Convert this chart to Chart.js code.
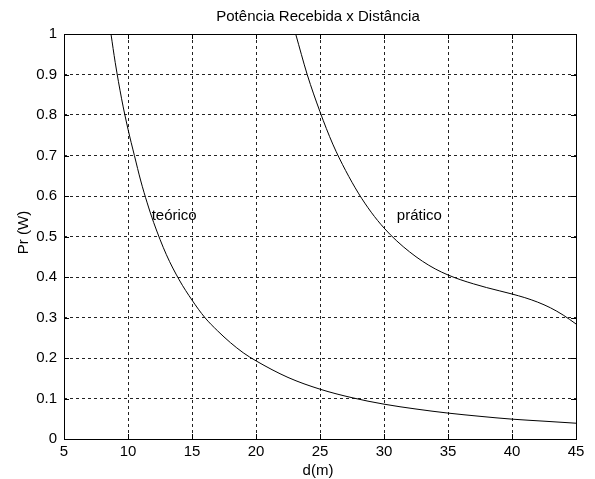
<!DOCTYPE html>
<html>
<head>
<meta charset="utf-8">
<script src="https://cdn.jsdelivr.net/npm/chart.js@4.4.0/dist/chart.umd.min.js"></script>
<style>
    html, body { margin: 0; padding: 0; background: #ffffff; }
</style>
</head>
<body>
<canvas id="pr-chart" width="595" height="479"></canvas>
<script>
// ========== Potência Recebida x Distância ==========

// distância (m) e potência (W)
const dTeorico = [8.67, 9.0, 9.5, 10, 10.5, 11, 11.5, 12, 13, 14, 15, 16, 17, 18, 19, 20, 22.5, 25, 27.5, 30, 32.5, 35, 37.5, 40, 42.5, 45];
const prTeorico = [1.0, 0.93, 0.84, 0.765, 0.70, 0.637, 0.583, 0.535, 0.455, 0.393, 0.343, 0.30, 0.267, 0.238, 0.213, 0.193, 0.152, 0.123, 0.102, 0.086, 0.074, 0.064, 0.056, 0.049, 0.044, 0.039];

const dPratico = [23.1, 24, 25, 26, 27, 28, 29, 30, 31, 32, 33, 34, 35, 36, 37, 38, 39, 40, 41, 42, 43, 44, 45];
const prPratico = [1.0, 0.9, 0.808, 0.728, 0.663, 0.607, 0.56, 0.521, 0.489, 0.462, 0.439, 0.42, 0.405, 0.393, 0.383, 0.374, 0.366, 0.358, 0.349, 0.338, 0.324, 0.306, 0.284];

const xTicks = [5, 10, 15, 20, 25, 30, 35, 40, 45];
const yTicks = [0, 0.1, 0.2, 0.3, 0.4, 0.5, 0.6, 0.7, 0.8, 0.9, 1];

const chartTitle = 'Potência Recebida x Distância';
const xTitle = 'd(m)';
const yTitle = 'Pr (W)';

// rótulos dentro do gráfico (posição em coordenadas de dados)
const noteLabels = ['teórico', 'prático'];
const noteX = [11.85, 31.0];
const noteY = [0.55, 0.55];

const FONT = "Arial, 'Liberation Sans', sans-serif";

function toPoints(xs, ys) {
    return xs.map((x, i) => ({ x, y: ys[i] }));
}

// moldura, marcas internas, títulos e anotações
const matlabAxes = {
    id: 'matlabAxes',
    afterDraw(chart) {
        const ctx = chart.ctx;
        const area = chart.chartArea;
        const xs = chart.scales.x;
        const ys = chart.scales.y;
        const tick = 5;

        ctx.save();
        ctx.strokeStyle = '#000';
        ctx.lineWidth = 1;
        ctx.strokeRect(Math.round(area.left) + 0.5, Math.round(area.top) + 0.5,
            Math.round(area.right - area.left), Math.round(area.bottom - area.top));

        ctx.beginPath();
        xTicks.forEach(v => {
            const px = Math.round(xs.getPixelForValue(v)) + 0.5;
            ctx.moveTo(px, area.bottom); ctx.lineTo(px, area.bottom - tick);
            ctx.moveTo(px, area.top); ctx.lineTo(px, area.top + tick);
        });
        yTicks.forEach(v => {
            const py = Math.round(ys.getPixelForValue(v)) + 0.5;
            ctx.moveTo(area.left, py); ctx.lineTo(area.left + tick, py);
            ctx.moveTo(area.right, py); ctx.lineTo(area.right - tick, py);
        });
        ctx.stroke();

        ctx.fillStyle = '#000';
        ctx.font = `15px ${FONT}`;
        const cx = (area.left + area.right) / 2;
        ctx.textAlign = 'center';
        ctx.textBaseline = 'middle';
        ctx.fillText(chartTitle, cx - 2, 17);
        ctx.fillText(xTitle, cx - 2, 471);

        ctx.save();
        ctx.translate(24, (area.top + area.bottom) / 2 - 4);
        ctx.rotate(-Math.PI / 2);
        ctx.fillText(yTitle, 0, 0);
        ctx.restore();

        ctx.textAlign = 'left';
        noteLabels.forEach((t, i) => {
            ctx.fillText(t, xs.getPixelForValue(noteX[i]), ys.getPixelForValue(noteY[i]));
        });
        ctx.restore();
    },
};

const canvas = document.getElementById('pr-chart');
new Chart(canvas, {
    type: 'line',
    data: {
        datasets: [
            {
                label: 'teórico',
                data: toPoints(dTeorico, prTeorico),
                borderColor: '#000',
                borderWidth: 1,
                pointRadius: 0,
                cubicInterpolationMode: 'monotone',
            },
            {
                label: 'prático',
                data: toPoints(dPratico, prPratico),
                borderColor: '#000',
                borderWidth: 1,
                pointRadius: 0,
                cubicInterpolationMode: 'monotone',
            },
        ],
    },
    options: {
        responsive: false,
        animation: false,
        devicePixelRatio: 1,
        layout: { padding: { top: 34, right: 19, left: 0, bottom: 0 } },
        plugins: {
            legend: { display: false },
            title: { display: false },
            tooltip: { enabled: false },
        },
        scales: {
            x: {
                type: 'linear',
                min: 5,
                max: 45,
                afterBuildTicks: scale => { scale.ticks = xTicks.map(v => ({ value: v })); },
                afterFit: scale => { scale.height = 40; },
                border: { display: false, dash: [3, 3] },
                grid: { color: '#222', lineWidth: 1, drawTicks: false },
                ticks: { color: '#000', padding: 4, maxRotation: 0, font: { family: FONT, size: 15 } },
            },
            y: {
                type: 'linear',
                min: 0,
                max: 1,
                afterBuildTicks: scale => { scale.ticks = yTicks.map(v => ({ value: v })); },
                afterFit: scale => { scale.width = 64; },
                border: { display: false, dash: [3, 3] },
                grid: { color: '#222', lineWidth: 1, drawTicks: false },
                ticks: {
                    color: '#000',
                    padding: 7,
                    font: { family: FONT, size: 15 },
                    callback: v => String(Math.round(v * 10) / 10),
                },
            },
        },
    },
    plugins: [matlabAxes],
});
</script>
</body>
</html>
